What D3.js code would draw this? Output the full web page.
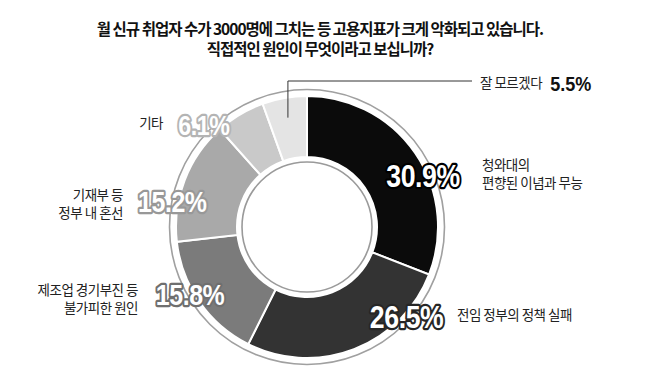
<!DOCTYPE html>
<html>
<head>
<meta charset="utf-8">
<script src="https://cdn.jsdelivr.net/npm/d3@7"></script>
<style>
    body { margin: 0; background: #fff; }
    svg { display: block; }
    .kr { font-family: "Noto Sans CJK KR", sans-serif; }
    .pct { font-family: "Liberation Sans Narrow", "Arial Narrow", "Liberation Sans", sans-serif; font-weight: bold; }
</style>
</head>
<body>
<svg id="chart"></svg>
<script>
const titleLines = [
    '월 신규 취업자 수가 3000명에 그치는 등 고용지표가 크게 악화되고 있습니다.',
    '직접적인 원인이 무엇이라고 보십니까?'
]
const categories = [
    ['청와대의', '편향된 이념과 무능'],
    ['전임 정부의 정책 실패'],
    ['제조업 경기부진 등', '불가피한 원인'],
    ['기재부 등', '정부 내 혼선'],
    ['기타'],
    ['잘 모르겠다']
]
const values = [30.9, 26.5, 15.8, 15.2, 6.1, 5.5]

// layout only
const fills = ['#0b0b0b', '#333333', '#7b7b7b', '#a9a9a9', '#c9c9c9', '#e4e4e4']
const halos = ['#000000', '#262626', '#6f6f6f', '#989898', '#b4b4b4', '#000']
const pctSize = [31, 31, 29, 29, 27, 20]
const pctPos = [[66, 127], [132, 134], [240, 135], [280.5, 137], [314.7, 145]]   // [angle, radius]
const catPos = [[175, -62, 'start'], [150, 88, 'start'], [-169, 63, 'end'], [-184, -32, 'end'], [-144, -104, 'end'], [173, -144, 'start']]
const narrow = 0.86

const width = 650, height = 385
const cx = 307, cy = 227
const rInner = 70, rOuter = 131

const svg = d3.select('#chart').attr('width', width).attr('height', height)

svg.append('g').selectAll('text')
    .data(titleLines)
    .enter()
    .append('text')
    .attr('class', 'kr')
    .attr('x', 320)
    .attr('y', (d, i) => 35 + i * 20)
    .attr('text-anchor', 'middle')
    .style('font-size', '15.5px')
    .style('font-weight', 'bold')
    .style('letter-spacing', '-1px')
    .attr('fill', '#111')
    .text(d => d)

const g = svg.append('g').attr('transform', `translate(${cx},${cy})`)

const pie = d3.pie().sort(null).value(d => d)
const arcs = pie(values)
const arc = d3.arc().innerRadius(rInner).outerRadius(rOuter)

g.append('circle').attr('r', 137.5).attr('fill', 'none').attr('stroke', '#a0a0a0').attr('stroke-width', 1.6)
g.append('circle').attr('r', 65).attr('fill', '#fff').attr('stroke', '#9a9a9a').attr('stroke-width', 1.6)

g.selectAll('path.slice')
    .data(arcs)
    .enter()
    .append('path')
    .attr('class', 'slice')
    .attr('d', arc)
    .attr('fill', (d, i) => fills[i])
    .attr('stroke', '#fff')
    .attr('stroke-width', 2)

const polar = (deg, r) => {
    const a = deg * Math.PI / 180
    return [r * Math.sin(a), -r * Math.cos(a)]
}

// percent labels on the ring, squeezed to look condensed
g.selectAll('text.pct')
    .data(arcs.slice(0, 5))
    .enter()
    .append('text')
    .attr('class', 'pct')
    .attr('transform', (d, i) => {
        const p = polar(pctPos[i][0], pctPos[i][1])
        return `translate(${p[0]},${p[1]}) scale(${narrow},1)`
    })
    .attr('dy', '0.36em')
    .attr('text-anchor', 'middle')
    .style('font-size', (d, i) => pctSize[i] + 'px')
    .style('letter-spacing', '-0.5px')
    .attr('fill', '#fff')
    .attr('stroke', (d, i) => halos[i])
    .attr('stroke-width', 4.5)
    .attr('stroke-linejoin', 'round')
    .attr('paint-order', 'stroke')
    .text(d => d.data + '%')

// category labels
const cat = g.selectAll('g.cat')
    .data(categories)
    .enter()
    .append('g')
    .attr('class', 'cat')
    .attr('transform', (d, i) => `translate(${catPos[i][0]},${catPos[i][1]})`)

cat.each(function (lines, i) {
    const t = d3.select(this).append('text')
        .attr('class', 'kr')
        .attr('text-anchor', catPos[i][2])
        .style('font-size', '13.5px')
        .style('letter-spacing', '-0.5px')
        .attr('fill', '#222')
    lines.forEach((l, j) => {
        t.append('tspan')
            .attr('x', 0)
            .attr('y', j * 18)
            .attr('dy', '0.36em')
            .text(l)
    })
})

// "잘 모르겠다" gets its value beside it plus a leader line
const last = arcs[5]
const mid = (last.startAngle + last.endAngle) / 2 * 180 / Math.PI
const p0 = polar(mid, 111)
const lineY = catPos[5][1] - 2
g.append('path')
    .attr('d', d3.line()([p0, [p0[0], lineY], [catPos[5][0] - 8, lineY]]))
    .attr('fill', 'none')
    .attr('stroke', '#333')
    .attr('stroke-width', 1)

const lastBox = cat.filter((d, i) => i === 5).select('text').node().getBBox()
g.append('text')
    .attr('class', 'pct')
    .attr('transform', `translate(${catPos[5][0] + lastBox.width + 7},${catPos[5][1]}) scale(${narrow},1)`)
    .attr('dy', '0.36em')
    .style('font-size', '21px')
    .attr('fill', '#111')
    .text(values[5] + '%')
</script>
</body>
</html>
